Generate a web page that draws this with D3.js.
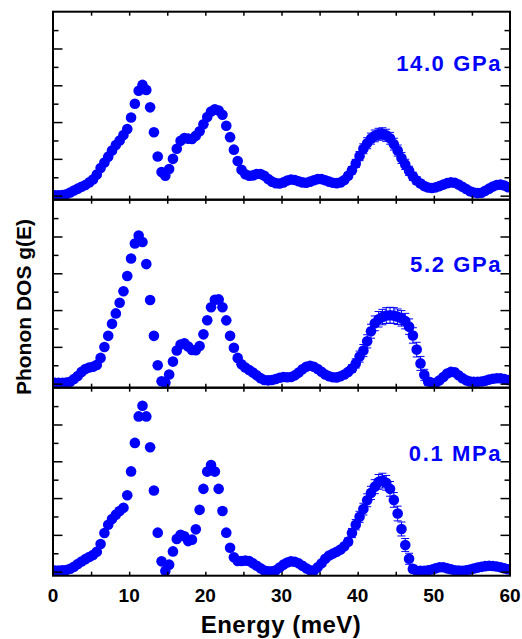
<!DOCTYPE html>
<html>
<head>
<meta charset="utf-8">
<script src="https://cdn.jsdelivr.net/npm/d3@7"></script>
<style>
  body { margin: 0; background: #fff; }
  text { font-family: "Liberation Sans", Arial, Helvetica, sans-serif; font-weight: bold; }
</style>
</head>
<body>
<div id="graph-container"></div>
<script>
// energy grid (meV) shared by all three spectra
const energy = [
  0.25, 0.75, 1.25, 1.75, 2.25, 2.75, 3.25, 3.75, 4.25, 4.75,
  5.25, 5.75, 6.25, 6.75, 7.25, 7.75, 8.25, 8.75, 9.25, 9.75,
  10.25, 10.75, 11.25, 11.75, 12.25, 12.75, 13.25, 13.75, 14.25, 14.75,
  15.25, 15.75, 16.25, 16.75, 17.25, 17.75, 18.25, 18.75, 19.25, 19.75,
  20.25, 20.75, 21.25, 21.75, 22.25, 22.75, 23.25, 23.75, 24.25, 24.75,
  25.25, 25.75, 26.25, 26.75, 27.25, 27.75, 28.25, 28.75, 29.25, 29.75,
  30.25, 30.75, 31.25, 31.75, 32.25, 32.75, 33.25, 33.75, 34.25, 34.75,
  35.25, 35.75, 36.25, 36.75, 37.25, 37.75, 38.25, 38.75, 39.25, 39.75,
  40.25, 40.75, 41.25, 41.75, 42.25, 42.75, 43.25, 43.75, 44.25, 44.75,
  45.25, 45.75, 46.25, 46.75, 47.25, 47.75, 48.25, 48.75, 49.25, 49.75,
  50.25, 50.75, 51.25, 51.75, 52.25, 52.75, 53.25, 53.75, 54.25, 54.75,
  55.25, 55.75, 56.25, 56.75, 57.25, 57.75, 58.25, 58.75, 59.25, 59.75
];

// g(E) at 14.0 GPa (arb. units)
const dos_14GPa = [
  0.02, 0.02, 0.03, 0.08, 0.17, 0.28, 0.38, 0.48, 0.58, 0.72,
  0.88, 1.15, 1.5, 1.8, 2.12, 2.45, 2.75, 3.0, 3.3, 3.62,
  4.25, 5.0, 5.7, 6.02, 5.75, 4.8, 3.45, 2.13, 1.28, 1.08,
  1.45, 2.0, 2.55, 2.98, 3.13, 3.1, 3.08, 3.25, 3.5, 3.88,
  4.27, 4.57, 4.7, 4.63, 4.4, 3.8, 3.18, 2.5, 1.88, 1.41,
  1.16, 1.08, 1.1, 1.18, 1.18, 1.08, 0.9, 0.76, 0.68, 0.66,
  0.72, 0.82, 0.88, 0.85, 0.78, 0.72, 0.7, 0.76, 0.84, 0.9,
  0.9, 0.84, 0.76, 0.7, 0.68, 0.72, 0.85, 1.08, 1.38, 1.75,
  2.15, 2.55, 2.85, 3.1, 3.25, 3.34, 3.36, 3.28, 3.12, 2.8,
  2.45, 2.05, 1.7, 1.35, 1.05, 0.82, 0.66, 0.52, 0.44, 0.42,
  0.45, 0.52, 0.6, 0.68, 0.72, 0.7, 0.6, 0.48, 0.36, 0.24,
  0.17, 0.14, 0.16, 0.26, 0.38, 0.5, 0.58, 0.6, 0.55, 0.46
];
const err_14GPa = [
  0.1, 0.1, 0.1, 0.1, 0.1, 0.1, 0.1, 0.1, 0.1, 0.1,
  0.1, 0.1, 0.1, 0.1, 0.1, 0.1, 0.1, 0.1, 0.1, 0.1,
  0.1, 0.1, 0.1, 0.1, 0.1, 0.1, 0.1, 0.1, 0.1, 0.1,
  0.1, 0.1, 0.1, 0.1, 0.1, 0.1, 0.1, 0.1, 0.1, 0.1,
  0.1, 0.1, 0.1, 0.1, 0.1, 0.1, 0.1, 0.1, 0.1, 0.1,
  0.1, 0.1, 0.1, 0.1, 0.1, 0.1, 0.1, 0.1, 0.1, 0.1,
  0.1, 0.1, 0.1, 0.1, 0.1, 0.1, 0.1, 0.1, 0.1, 0.1,
  0.1, 0.1, 0.1, 0.1, 0.1, 0.1, 0.15, 0.18, 0.2, 0.22,
  0.25, 0.27, 0.3, 0.3, 0.32, 0.32, 0.33, 0.33, 0.32, 0.32,
  0.3, 0.3, 0.28, 0.25, 0.22, 0.2, 0.18, 0.15, 0.12, 0.12,
  0.12, 0.12, 0.12, 0.12, 0.12, 0.12, 0.12, 0.12, 0.12, 0.12,
  0.12, 0.12, 0.12, 0.12, 0.12, 0.12, 0.12, 0.12, 0.12, 0.12
];

// g(E) at 5.2 GPa
const dos_5GPa = [
  0.05, 0.05, 0.05, 0.06, 0.1, 0.25, 0.42, 0.64, 0.8, 0.88,
  0.92, 1.02, 1.4, 1.99, 2.6, 3.25, 3.82, 4.4, 5.02, 5.85,
  6.8, 7.62, 8.05, 7.7, 6.5, 4.55, 2.6, 1.0, 0.13, 0.05,
  0.5, 1.2, 1.8, 2.13, 2.2, 2.02, 1.83, 1.82, 2.05, 2.68,
  3.45, 4.15, 4.56, 4.58, 4.15, 3.44, 2.6, 1.95, 1.4, 1.05,
  0.88, 0.74, 0.6, 0.45, 0.3, 0.2, 0.18, 0.2, 0.25, 0.32,
  0.36, 0.35, 0.36, 0.45, 0.6, 0.78, 0.92, 0.97, 0.92, 0.8,
  0.65, 0.5, 0.4, 0.35, 0.34, 0.4, 0.5, 0.64, 0.82, 1.1,
  1.47, 1.8, 2.3, 2.85, 3.28, 3.5, 3.62, 3.7, 3.72, 3.7,
  3.64, 3.55, 3.4, 3.1, 2.62, 1.85, 1.1, 0.48, 0.12, 0.05,
  0.05, 0.18, 0.36, 0.55, 0.64, 0.62, 0.46, 0.3, 0.18, 0.12,
  0.1, 0.1, 0.12, 0.16, 0.22, 0.27, 0.29, 0.29, 0.25, 0.2
];
const err_5GPa = [
  0.1, 0.1, 0.1, 0.1, 0.1, 0.1, 0.1, 0.1, 0.1, 0.1,
  0.1, 0.1, 0.1, 0.1, 0.1, 0.1, 0.1, 0.1, 0.1, 0.1,
  0.1, 0.1, 0.1, 0.1, 0.1, 0.1, 0.1, 0.1, 0.1, 0.1,
  0.1, 0.1, 0.1, 0.1, 0.1, 0.1, 0.1, 0.1, 0.1, 0.1,
  0.1, 0.1, 0.1, 0.1, 0.1, 0.1, 0.1, 0.1, 0.1, 0.1,
  0.1, 0.1, 0.1, 0.1, 0.1, 0.1, 0.1, 0.1, 0.1, 0.1,
  0.1, 0.1, 0.1, 0.1, 0.1, 0.1, 0.1, 0.1, 0.1, 0.1,
  0.1, 0.1, 0.1, 0.1, 0.1, 0.1, 0.1, 0.1, 0.2, 0.25,
  0.3, 0.33, 0.36, 0.38, 0.4, 0.42, 0.42, 0.43, 0.43, 0.43,
  0.42, 0.42, 0.42, 0.42, 0.42, 0.4, 0.38, 0.3, 0.2, 0.12,
  0.12, 0.12, 0.12, 0.12, 0.12, 0.12, 0.12, 0.12, 0.12, 0.12,
  0.12, 0.12, 0.12, 0.12, 0.12, 0.12, 0.12, 0.12, 0.12, 0.12
];

// g(E) at 0.1 MPa
const dos_01MPa = [
  0.06, 0.06, 0.07, 0.09, 0.16, 0.26, 0.42, 0.55, 0.68, 0.8,
  0.9, 1.08, 1.5, 2.1, 2.55, 2.86, 3.1, 3.3, 3.47, 4.15,
  5.45, 7.0, 8.44, 9.02, 8.44, 6.76, 4.41, 2.12, 0.56, 0.04,
  0.38, 1.1, 1.78, 2.0, 1.92, 1.66, 1.74, 2.3, 3.36, 4.5,
  5.44, 5.8, 5.44, 4.5, 3.3, 2.12, 1.3, 0.78, 0.58, 0.58,
  0.6, 0.58, 0.45, 0.32, 0.18, 0.06, 0.02, 0.02, 0.08, 0.22,
  0.38, 0.5, 0.56, 0.54, 0.45, 0.32, 0.18, 0.07, 0.06, 0.24,
  0.45, 0.7, 0.88, 0.98, 1.08, 1.2, 1.38, 1.63, 2.1, 2.55,
  2.98, 3.4, 3.88, 4.28, 4.62, 4.88, 4.95, 4.83, 4.5, 3.9,
  3.16, 2.32, 1.45, 0.7, 0.15, 0.05, 0.04, 0.05, 0.08, 0.12,
  0.18, 0.24, 0.24, 0.18, 0.13, 0.08, 0.06, 0.05, 0.07, 0.12,
  0.17, 0.22, 0.26, 0.3, 0.32, 0.31, 0.28, 0.24, 0.18, 0.13
];
const err_01MPa = [
  0.1, 0.1, 0.1, 0.1, 0.1, 0.1, 0.1, 0.1, 0.1, 0.1,
  0.1, 0.1, 0.1, 0.1, 0.1, 0.1, 0.1, 0.1, 0.1, 0.1,
  0.1, 0.1, 0.1, 0.1, 0.1, 0.1, 0.1, 0.1, 0.1, 0.1,
  0.1, 0.1, 0.1, 0.1, 0.1, 0.1, 0.1, 0.1, 0.1, 0.1,
  0.1, 0.1, 0.1, 0.1, 0.1, 0.1, 0.1, 0.1, 0.1, 0.1,
  0.1, 0.1, 0.1, 0.1, 0.1, 0.1, 0.1, 0.1, 0.1, 0.1,
  0.1, 0.1, 0.1, 0.1, 0.1, 0.1, 0.1, 0.1, 0.1, 0.1,
  0.1, 0.1, 0.1, 0.1, 0.1, 0.1, 0.1, 0.2, 0.25, 0.28,
  0.3, 0.32, 0.35, 0.36, 0.38, 0.4, 0.4, 0.4, 0.4, 0.4,
  0.4, 0.38, 0.35, 0.3, 0.2, 0.1, 0.1, 0.1, 0.1, 0.1,
  0.1, 0.1, 0.1, 0.1, 0.1, 0.1, 0.1, 0.1, 0.1, 0.1,
  0.1, 0.1, 0.1, 0.1, 0.1, 0.1, 0.1, 0.1, 0.1, 0.1
];

const panelLabels = ["14.0 GPa", "5.2 GPa", "0.1 MPa"];
const panelSeries = [dos_14GPa, dos_5GPa, dos_01MPa];
const panelErrors = [err_14GPa, err_5GPa, err_01MPa];
const xTickLabels = [0, 10, 20, 30, 40, 50, 60];

const blue = "#0000ff";
const width = 522, height = 639;

const svg = d3.select("#graph-container").append("svg")
    .attr("width", width)
    .attr("height", height);

const x = d3.scaleLinear().domain([0, 60]).range([53, 510]);

// three stacked panels sharing the x axis
const panelTop = [11.7, 199.7, 387.7];
const panelH = 188;
const markerR = 5.3;

panelSeries.forEach((series, p) => {
  const top = panelTop[p];
  const bottom = top + panelH;
  const y = d3.scaleLinear().domain([-0.22, 10]).range([bottom, top]);

  const points = energy.map((e, i) => ({ e: e, v: series[i], err: panelErrors[p][i] }));

  svg.append("clipPath").attr("id", "clip" + p)
    .append("rect")
    .attr("x", x(0)).attr("y", top)
    .attr("width", x(60) - x(0)).attr("height", panelH);

  const g = svg.append("g").attr("clip-path", `url(#clip${p})`);

  // error bars
  const eb = g.selectAll(".eb").data(points).enter().append("g").attr("class", "eb")
      .attr("stroke", blue).attr("stroke-width", 1);
  eb.append("line")
      .attr("x1", d => x(d.e)).attr("x2", d => x(d.e))
      .attr("y1", d => y(d.v - d.err)).attr("y2", d => y(d.v + d.err));
  eb.append("line")
      .attr("x1", d => x(d.e) - 4).attr("x2", d => x(d.e) + 4)
      .attr("y1", d => y(d.v + d.err)).attr("y2", d => y(d.v + d.err));
  eb.append("line")
      .attr("x1", d => x(d.e) - 4).attr("x2", d => x(d.e) + 4)
      .attr("y1", d => y(d.v - d.err)).attr("y2", d => y(d.v - d.err));

  // data markers
  g.selectAll(".pt").data(points).enter().append("circle")
      .attr("class", "pt")
      .attr("cx", d => x(d.e))
      .attr("cy", d => y(d.v))
      .attr("r", markerR)
      .attr("fill", blue);

  // inward ticks on all four sides
  const xt = d3.range(5, 60, 5);
  svg.append("g").attr("transform", `translate(0,${top})`)
      .call(d3.axisBottom(x).tickValues(xt).tickSize(4).tickFormat(""));
  svg.append("g").attr("transform", `translate(0,${bottom})`)
      .call(d3.axisTop(x).tickValues(xt).tickSize(4).tickFormat(""));

  const major = [0, 2, 4, 6, 8], minor = [1, 3, 5, 7, 9];
  svg.append("g").attr("transform", `translate(${x(0)},0)`)
      .call(d3.axisRight(y).tickValues(major).tickSize(9.5).tickFormat(""));
  svg.append("g").attr("transform", `translate(${x(0)},0)`)
      .call(d3.axisRight(y).tickValues(minor).tickSize(5.5).tickFormat(""));
  svg.append("g").attr("transform", `translate(${x(60)},0)`)
      .call(d3.axisLeft(y).tickValues(major).tickSize(9.5).tickFormat(""));
  svg.append("g").attr("transform", `translate(${x(60)},0)`)
      .call(d3.axisLeft(y).tickValues(minor).tickSize(5.5).tickFormat(""));

  // frame
  svg.append("rect")
      .attr("x", x(0)).attr("y", top)
      .attr("width", x(60) - x(0)).attr("height", panelH)
      .attr("fill", "none").attr("stroke", "#000").attr("stroke-width", 2);

  svg.append("text")
      .attr("x", 502)
      .attr("y", [71, 272, 461][p])
      .attr("text-anchor", "end")
      .attr("fill", blue)
      .style("font-size", "22px")
      .style("letter-spacing", "1.6px")
      .text(panelLabels[p]);
});

svg.selectAll(".domain").remove();
svg.selectAll(".tick line").attr("stroke", "#000").attr("stroke-width", 1.5);

// x tick labels under the bottom panel
svg.selectAll(".xlab").data(xTickLabels).enter().append("text")
    .attr("class", "xlab")
    .attr("x", d => x(d))
    .attr("y", 602)
    .attr("text-anchor", "middle")
    .style("font-size", "19px")
    .text(d => d);

svg.append("text")
    .attr("x", 281)
    .attr("y", 633)
    .attr("text-anchor", "middle")
    .style("font-size", "24px")
    .style("letter-spacing", "0.5px")
    .text("Energy (meV)");

svg.append("text")
    .attr("transform", "translate(31,307) rotate(-90)")
    .attr("text-anchor", "middle")
    .style("font-size", "21px")
    .text("Phonon DOS g(E)");
</script>
</body>
</html>
